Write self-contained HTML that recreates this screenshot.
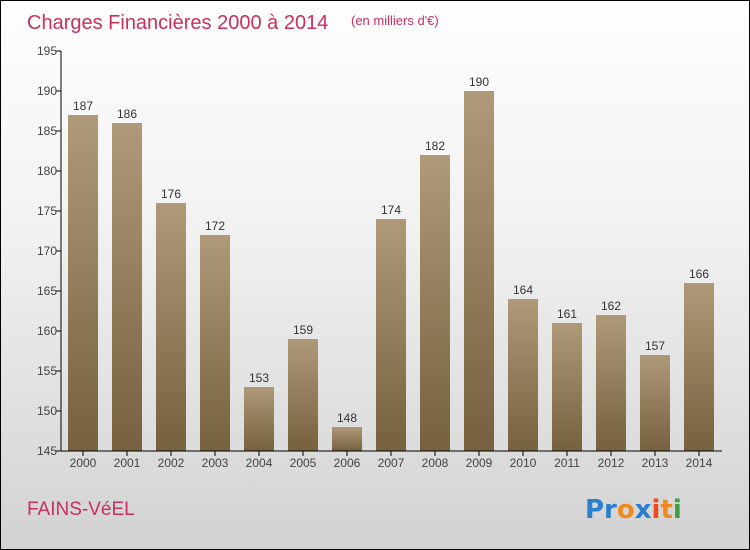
<!DOCTYPE html>
<html><head><meta charset="utf-8"><style>
body{margin:0}
#c{width:748px;height:548px;border:1px solid #000;background:linear-gradient(#fefefe,#f2f2f2 40%,#d2d2d2);position:relative;font-family:"Liberation Sans",sans-serif;overflow:hidden}
</style></head><body>
<div id="c">
<svg id="s" width="748" height="548" style="position:absolute;left:0;top:0">
<defs><linearGradient id="g" x1="0" y1="0" x2="0" y2="1"><stop offset="0" stop-color="#ae9a78"/><stop offset="1" stop-color="#76613f"/></linearGradient></defs>
<text x="26" y="28" font-size="20" fill="#c8305f">Charges Financières 2000 à 2014</text>
<text x="350" y="24" font-size="13" fill="#c8305f">(en milliers d'€)</text>
<text x="26" y="514" font-size="19" fill="#c8305f">FAINS-VéEL</text>
<g font-size="26" font-weight="bold" font-family="DejaVu Sans,sans-serif">
<text x="584" y="517"><tspan fill="#2a7fd0">Pr</tspan><tspan fill="#f08a1c">o</tspan><tspan fill="#2a7fd0">x</tspan><tspan fill="#f04a1c">i</tspan><tspan fill="#f08a1c">t</tspan><tspan fill="#3aa040">i</tspan></text></g>
<g id="plot"></g>
</svg></div>
<script>
const years=["2000","2001","2002","2003","2004","2005","2006","2007","2008","2009","2010","2011","2012","2013","2014"];
const values=[187,186,176,172,153,159,148,174,182,190,164,161,162,157,166];
const yTicks=[145,150,155,160,165,170,175,180,185,190,195];
const NS="http://www.w3.org/2000/svg";
const p=document.getElementById('plot');
const y=v=>450-(v-145)*8;
const x=i=>82+i*44;
function mk(t,a,parent){const e=document.createElementNS(NS,t);for(const k in a)e.setAttribute(k,a[k]);(parent||p).appendChild(e);return e;}
yTicks.forEach(v=>{
const l=mk('line',{x1:55,x2:60,y1:y(v),y2:y(v),stroke:'#000'});


const t=mk('text',{x:56,y:y(v)+4,'font-size':12,fill:'#444','text-anchor':'end'});t.textContent=v;


});
values.forEach((v,i)=>{
const r=mk('rect',{x:x(i)-15,y:y(v),width:30,height:450-y(v),fill:'url(#g)'});


const t=mk('text',{x:x(i),y:y(v)-5,'font-size':12,fill:'#333','text-anchor':'middle'});t.textContent=v;


const tl=mk('line',{x1:x(i),x2:x(i),y1:450,y2:455,stroke:'#000'});


const xl=mk('text',{x:x(i),y:466,'font-size':12,fill:'#444','text-anchor':'middle'});xl.textContent=years[i];


});
const ya=mk('line',{x1:60,x2:60,y1:50,y2:450,stroke:'#000'});


const xa=mk('line',{x1:60,x2:721,y1:450,y2:450,stroke:'#000'});


</script>
</body></html>
